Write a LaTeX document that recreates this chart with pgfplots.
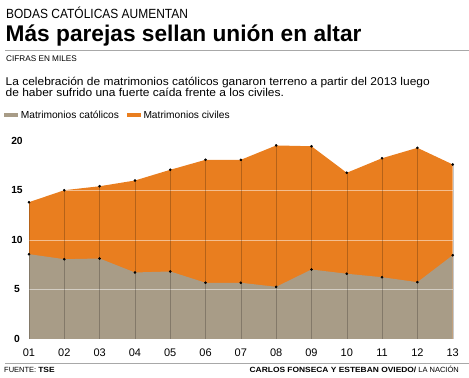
\documentclass[border=0pt]{standalone}
\usepackage{pgfplots}
\pgfplotsset{compat=1.18}
\usepackage{pgfplotstable}
\usepackage{fontspec}
\setmainfont{Liberation Sans}
\newfontfamily\narrowfont[FakeStretch=0.9]{Liberation Sans}
\newfontfamily\widefont[FakeStretch=1.06]{Liberation Sans}
\newfontfamily\widebold[FakeStretch=1.12]{Liberation Sans Bold}
\definecolor{orng}{HTML}{E97E1F}
\definecolor{taupe}{HTML}{A89C87}
\definecolor{rule}{HTML}{A8A8A8}
\pgfplotstableread{
x tot cat
1 13.82 8.57
2 15.03 8.06
3 15.43 8.13
4 16.01 6.72
5 17.09 6.82
6 18.10 5.68
7 18.10 5.68
8 19.55 5.27
9 19.47 7.02
10 16.79 6.59
11 18.26 6.24
12 19.31 5.74
13 17.63 8.46
}\data
\begin{document}
\begin{tikzpicture}
\path[use as bounding box] (0,0) rectangle (469bp,378bp);
% header
\node[anchor=base west, inner sep=0] at (6bp,359.3bp) {\narrowfont\fontsize{13.3bp}{15bp}\selectfont BODAS CATÓLICAS AUMENTAN};
\node[anchor=base west, inner sep=0] at (5.5bp,336.3bp) {\bfseries\fontsize{22.7bp}{26bp}\selectfont Más parejas sellan unión en altar};
\draw[rule, line width=0.7bp] (5bp,328bp) -- (469bp,328bp);
\node[anchor=base west, inner sep=0] at (6bp,316bp) {\fontsize{8.2bp}{10bp}\selectfont CIFRAS EN MILES};
\node[anchor=base west, inner sep=0] at (5.5bp,292.8bp) {\widefont\fontsize{11.3bp}{13bp}\selectfont La celebración de matrimonios católicos ganaron terreno a partir del 2013 luego};
\node[anchor=base west, inner sep=0] at (5.5bp,281.3bp) {\widefont\fontsize{11.3bp}{13bp}\selectfont de haber sufrido una fuerte caída frente a los civiles.};
% legend
\fill[taupe] (4bp,260.7bp) rectangle (18.3bp,264.7bp);
\node[anchor=base west, inner sep=0] at (20.7bp,259.7bp) {\fontsize{10.2bp}{12bp}\selectfont Matrimonios católicos};
\fill[orng] (126.7bp,260.7bp) rectangle (140.7bp,264.7bp);
\node[anchor=base west, inner sep=0] at (143.3bp,259.7bp) {\fontsize{10.2bp}{12bp}\selectfont Matrimonios civiles};
% footer
\draw[rule, line width=0.7bp] (5bp,14.7bp) -- (469bp,14.7bp);
\node[anchor=base west, inner sep=0] at (4bp,5.3bp) {\fontsize{7.5bp}{9bp}\selectfont FUENTE: {\widebold TSE}};
\node[anchor=base east, inner sep=0] at (459bp,5.3bp) {\fontsize{7.5bp}{9bp}\selectfont {\widebold CARLOS FONSECA Y ESTEBAN OVIEDO/} LA NACIÓN};
\begin{axis}[
  at={(29bp,39bp)}, anchor=south west,
  scale only axis, width=423.7bp, height=198bp,
  xmin=1, xmax=13, ymin=0, ymax=20,
  clip=false,
  axis line style={draw=none},
  major tick length=0pt,
  /pgf/number format/assume math mode=true,
  xtick={1,...,13},
  xticklabels={01,02,03,04,05,06,07,08,09,10,11,12,13},
  ytick={0,5,10,15,20},
  xticklabel style={font=\fontsize{11bp}{13bp}\selectfont, anchor=center, yshift=-14bp},
  yticklabel style={font=\bfseries\fontsize{10.3bp}{12bp}\selectfont, anchor=center, xshift=-12bp},
]
\addplot[fill=orng, draw=none] table[x=x,y=tot]{\data} \closedcycle;
\addplot[fill=taupe, draw=none] table[x=x,y=cat]{\data} \closedcycle;
\addplot[draw=white, opacity=0.5, line width=0.8bp] coordinates {(1,5) (13,5)};
\addplot[draw=white, opacity=0.5, line width=0.8bp] coordinates {(1,10) (13,10)};
\addplot[draw=white, opacity=0.5, line width=0.8bp] coordinates {(1,15) (13,15)};
\addplot[ycomb, draw=black, opacity=0.22, line width=0.4bp] table[x=x,y=tot]{\data};
\addplot[only marks, mark=*, mark size=1.1bp, black] table[x=x,y=tot]{\data};
\addplot[only marks, mark=*, mark size=1.1bp, black] table[x=x,y=cat]{\data};
\end{axis}
\end{tikzpicture}
\end{document}
